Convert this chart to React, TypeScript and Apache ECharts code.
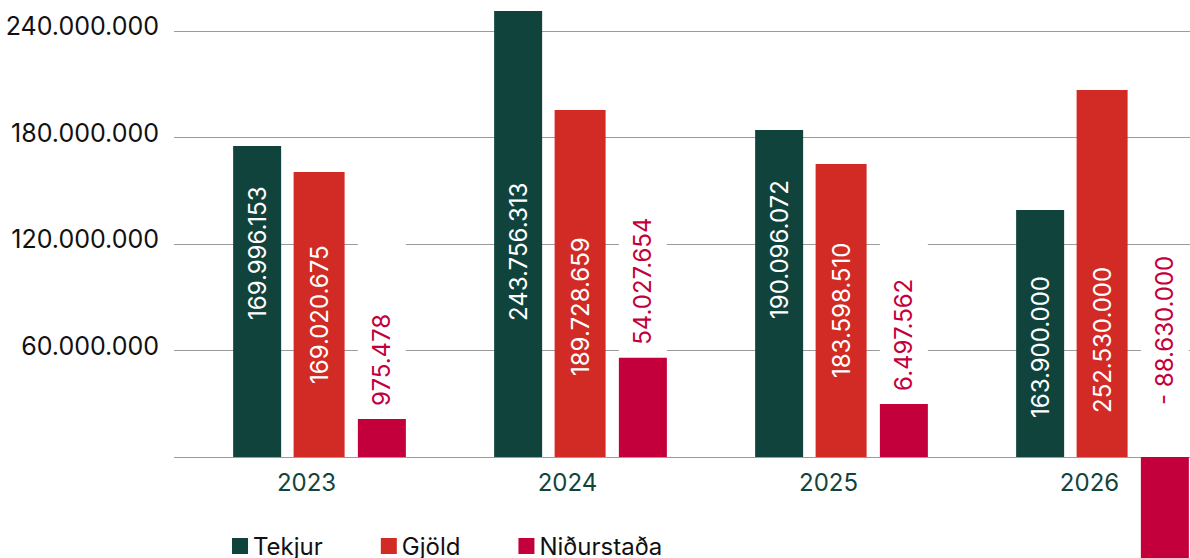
import React, { useEffect, useRef } from "react";
import * as echarts from "echarts";

// ---- data ----
const categories = ["2023", "2024", "2025", "2026"];
const seriesNames = ["Tekjur", "Gjöld", "Niðurstaða"];
// bar heights as drawn
const tekjur = [175.2e6, 251.3e6, 184.2e6, 139.2e6];
const gjold = [160.6e6, 195.5e6, 165.1e6, 206.8e6];
const nidurstada = [21.4e6, 55.9e6, 29.9e6, -88.63e6];
// value labels printed on the bars
const tekjurLabels = ["169.996.153", "243.756.313", "190.096.072", "163.900.000"];
const gjoldLabels = ["169.020.675", "189.728.659", "183.598.510", "252.530.000"];
const nidurstadaLabels = ["975.478", "54.027.654", "6.497.562", "- 88.630.000"];
// y axis ticks
const yMin = -120e6;
const yMax = 240e6;
const yStep = 60e6;

// ---- styles ----
const COLORS = ["#11433d", "#d22b25", "#c4003c"];
const FONT = "Inter, 'Noto Sans', sans-serif";
const tekjurLabelDist = [137, 136, 138, 39];
const gjoldLabelDist = [73, 81, 79, 44];

const fmt = (v: number) =>
  String(Math.round(v)).replace(/\B(?=(\d{3})+(?!\d))/g, ".");

export default function App() {
  const ref = useRef<HTMLDivElement>(null);
  useEffect(() => {
    if (!ref.current) return;
    const chart = echarts.init(ref.current, undefined, { renderer: "svg" });
    const gridTop = 31;
    const gridHeight = 639;
    const zeroFromBottom = gridHeight * (0 - yMin) / (yMax - yMin);
    const insideLabel = (labels: string[]) => ({
      show: true,
      position: "insideBottom",
      rotate: 90,
      align: "left",
      verticalAlign: "middle",
      color: "#ffffff",
      fontSize: 24,
      fontFamily: FONT,
      formatter: (p: any) => labels[p.dataIndex],
    });
    chart.setOption({
      animation: false,
      grid: [
        { left: 189, width: 1044, top: gridTop, height: gridHeight, outerBoundsMode: "none", containLabel: false },
        { left: 174, right: 0, top: gridTop, height: gridHeight, outerBoundsMode: "none", containLabel: false },
      ],
      legend: {
        data: seriesNames,
        left: 227,
        top: 529,
        icon: "rect",
        itemWidth: 16,
        itemHeight: 16,
        itemGap: 58,
        textStyle: { fontSize: 24, color: "#111111", fontFamily: FONT },
      },
      xAxis: [
        {
          gridIndex: 0,
          type: "category",
          data: categories,
          offset: -zeroFromBottom,
          axisLine: { show: false, onZero: false },
          axisTick: { show: false },
          axisLabel: {
            color: "#12443d",
            fontSize: 24,
            fontFamily: FONT,
            margin: 13,
            padding: [0, 26, 0, 0],
          },
        },
        { gridIndex: 1, type: "value", show: false },
      ],
      yAxis: [
        {
          gridIndex: 0,
          type: "value",
          min: yMin,
          max: yMax,
          interval: yStep,
          axisLabel: { show: false },
          splitLine: { show: false },
          axisLine: { show: false },
          axisTick: { show: false },
        },
        {
          gridIndex: 1,
          type: "value",
          min: yMin,
          max: yMax,
          interval: yStep,
          axisLine: { show: false },
          axisTick: { show: false },
          axisLabel: {
            fontSize: 25,
            color: "#111111",
            fontFamily: FONT,
            margin: 15,
            verticalAlign: "bottom",
            lineHeight: 10,
            formatter: (v: number) => (v > 0 ? fmt(v) : ""),
          },
          splitLine: { lineStyle: { color: "#9b9b9b", width: 1 } },
        },
      ],
      series: [
        {
          name: seriesNames[0],
          type: "bar",
          xAxisIndex: 0,
          yAxisIndex: 0,
          clip: false,
          barWidth: 48,
          barGap: "26%",
          itemStyle: { color: COLORS[0] },
          label: insideLabel(tekjurLabels),
          data: tekjur.map((v, i) => ({ value: v, label: { distance: tekjurLabelDist[i] } })),
        },
        {
          name: seriesNames[1],
          type: "bar",
          xAxisIndex: 0,
          yAxisIndex: 0,
          clip: false,
          barWidth: 51,
          barGap: "26%",
          itemStyle: { color: COLORS[1] },
          label: insideLabel(gjoldLabels),
          data: gjold.map((v, i) => ({ value: v, label: { distance: gjoldLabelDist[i] } })),
        },
        {
          name: seriesNames[2],
          type: "bar",
          xAxisIndex: 0,
          yAxisIndex: 0,
          clip: false,
          barWidth: 48,
          barGap: "26%",
          itemStyle: { color: COLORS[2] },
          label: {
            show: true,
            position: "top",
            distance: 3,
            rotate: 90,
            align: "left",
            verticalAlign: "middle",
            color: COLORS[2],
            fontSize: 24,
            fontFamily: FONT,
            backgroundColor: "#ffffff",
            width: 180,
            lineHeight: 48,
            padding: [0, 0, 0, 10],
            formatter: (p: any) => nidurstadaLabels[p.dataIndex],
          },
          data: nidurstada.map((v) =>
            v < 0
              ? { value: v, label: { distance: 2, width: 140, padding: [0, 0, 0, 50] } }
              : { value: v }
          ),
        },
      ],
    });
    return () => chart.dispose();
  }, []);
  return (
    <div
      style={{
        position: "absolute",
        left: 0,
        top: 0,
        width: 1190,
        height: 558,
        overflow: "hidden",
        background: "#ffffff",
      }}
    >
      <div ref={ref} style={{ width: 1260, height: 700 }} />
    </div>
  );
}
